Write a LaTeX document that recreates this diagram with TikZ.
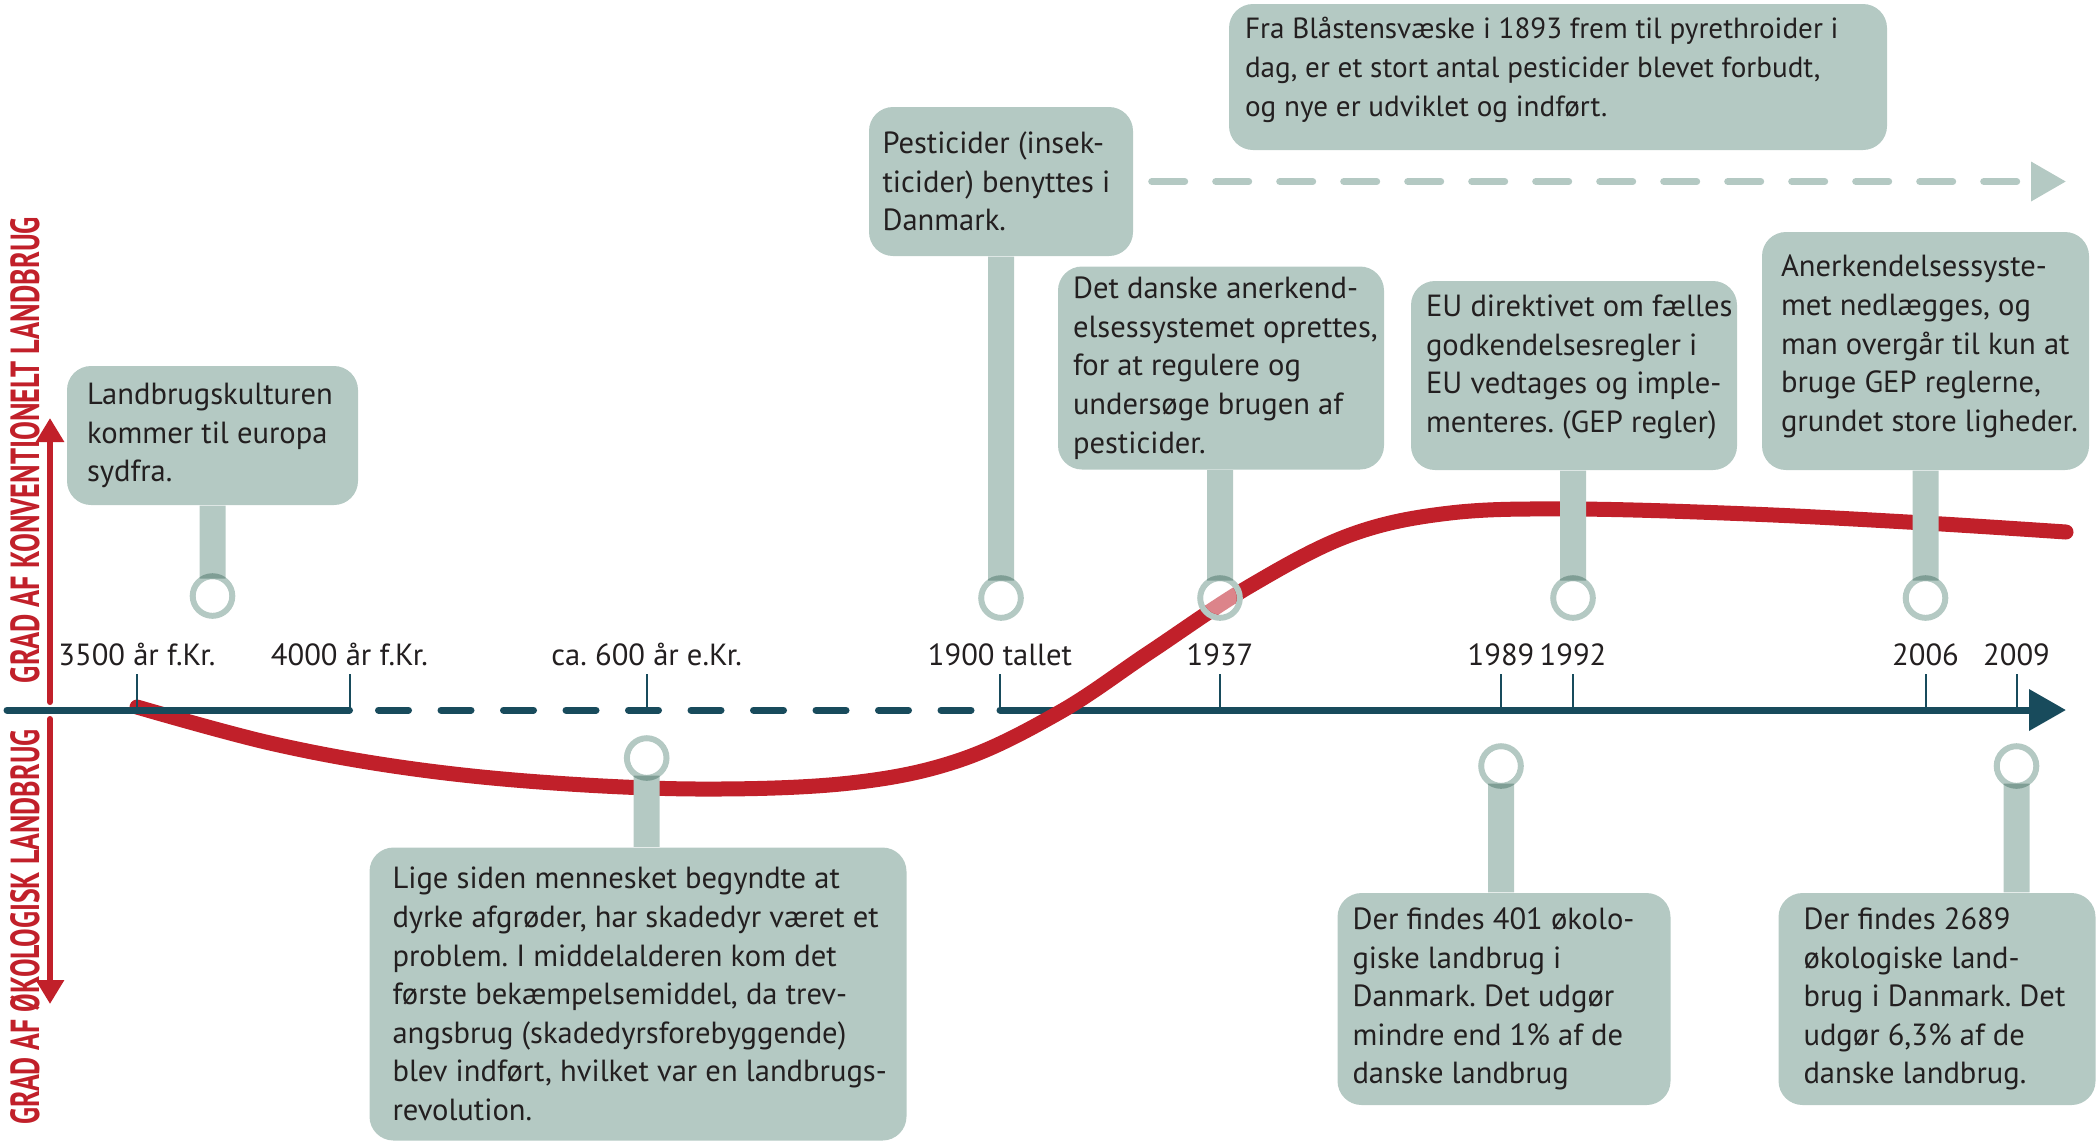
\documentclass[tikz,border=0pt]{standalone}
\usepackage{fontspec}
\setmainfont{PT Sans}
\usetikzlibrary{positioning,arrows.meta,calc}
\definecolor{boxgreen}{HTML}{B4C9C3}
\definecolor{axisblue}{HTML}{184B5C}
\definecolor{curvered}{HTML}{C1202A}
\definecolor{inktext}{HTML}{231F20}
\newcommand{\sidetext}[2]{\resizebox{#1}{2.9mm}{\bfseries #2}}
\frenchspacing

\begin{document}
\begin{tikzpicture}[x=0.1mm, y=-0.1mm,
		font=\fontsize{8.7}{11}\selectfont,
		box/.style={fill=boxgreen, rounded corners=2.4mm, inner sep=0pt},
		txt/.style={align=left, inner sep=0pt, text=inktext},
		lbl/.style={anchor=base, inner sep=0pt, text=inktext},
		side/.style={rotate=90, inner sep=0pt, text=curvered},
		pin/.style={circle, draw=boxgreen, line width=0.6mm, minimum size=3.96mm, inner sep=0pt},
		stem/.style={draw=boxgreen, line width=2.6mm, shorten <=1.75mm},
		tick/.style={draw=axisblue, line width=0.2mm},
		axis/.style={draw=axisblue, line width=0.7mm, line cap=round},
		axisdash/.style={axis, dash pattern=on 3mm off 3.25mm},
		scalearr/.style={draw=curvered, line width=0.6mm, line cap=round,
				-{Triangle[length=2.4mm, width=2.7mm]}},
		trend/.style={draw=curvered, line width=1.5mm, line cap=round},
		future/.style={draw=boxgreen, line width=0.7mm, line cap=round,
				dash pattern=on 3.3mm off 3.1mm, -{Triangle[length=3.5mm, width=3.8mm]}}
		]
	\useasboundingbox (0,0) rectangle (2100,1141);

	\coordinate (axisstart) at (7,710);
	\coordinate (y3500) at (137,710);
	\coordinate (y4000) at (349.5,710);
	\coordinate (dashstart) at (378.5,710);
	\coordinate (y600) at (646.7,710);
	\coordinate (dashend) at (971,710);
	\coordinate (y1900) at (1000,710);
	\coordinate (y1937) at (1220,710);
	\coordinate (y1989) at (1501,710);
	\coordinate (y1992) at (1573,710);
	\coordinate (y2006) at (1925.5,710);
	\coordinate (y2009) at (2016.5,710);
	\coordinate (axistip) at (2066,710);

	\node[box, minimum width=29.1mm, minimum height=13.9mm] (kultur) at (212.5,435.5) {};
	\node[txt, right=2mm of kultur.west] (kulturtxt)
	{Landbrugskulturen\\kommer til europa\\sydfra.};
	\node[box, minimum width=26.4mm, minimum height=14.9mm] (pest) at (1001,181.5) {};
	\node[txt, right=1.35mm of pest.west] (pesttxt)
	{Pesticider (insek-\\ticider) benyttes i\\Danmark.};
	\node[box, minimum width=65.8mm, minimum height=14.6mm] (blaa) at (1558,77) {};
	\node[txt, right=1.6mm of blaa.west, yshift=0.7mm, font=\fontsize{8.3}{11}\selectfont] (blaatxt)
	{Fra Blåstensvæske i 1893 frem til pyrethroider i\\
		dag, er et stort antal pesticider blevet forbudt,\\
		og nye er udviklet og indført.};
	\node[box, minimum width=32.6mm, minimum height=20.3mm] (anerk) at (1221,368) {};
	\node[txt, right=1.5mm of anerk.west] (anerktxt)
	{Det danske anerkend-\\elsessystemet oprettes,\\for at regulere og\\
		undersøge brugen af\\pesticider.};
	\node[box, minimum width=32.6mm, minimum height=18.9mm] (eu) at (1574,375.5) {};
	\node[txt, right=1.5mm of eu.west, yshift=0.85mm] (eutxt)
	{EU direktivet om fælles\\godkendelsesregler i\\EU vedtages og imple-\\
		menteres. (GEP regler)};
	\node[box, minimum width=32.7mm, minimum height=23.8mm] (gep) at (1925.5,351) {};
	\node[txt, right=1.9mm of gep.west, yshift=0.45mm] (geptxt)
	{Anerkendelsessyste-\\met nedlægges, og\\man overgår til kun at\\
		bruge GEP reglerne,\\grundet store ligheder.};
	\node[box, minimum width=53.7mm, minimum height=29.3mm] (lige) at (638,994) {};
	\node[txt, right=2.3mm of lige.west] (ligetxt)
	{Lige siden mennesket begyndte at\\dyrke afgrøder, har skadedyr været et\\
		problem. I middelalderen kom det\\første bekæmpelsemiddel, da trev-\\
		angsbrug (skadedyrsforebyggende)\\blev indført, hvilket var en landbrugs-\\
		revolution.};
	\node[box, minimum width=33.3mm, minimum height=21.2mm] (oko401) at (1504,999) {};
	\node[txt, right=1.5mm of oko401.west] (oko401txt)
	{Der findes 401 økolo-\\giske landbrug i\\Danmark. Det udgør\\
		mindre end 1\% af de\\danske landbrug};
	\node[box, minimum width=31.7mm, minimum height=21.2mm] (oko2689) at (1937,999) {};
	\node[txt, right=2.5mm of oko2689.west] (oko2689txt)
	{Der findes 2689\\økologiske land-\\brug i Danmark. Det\\
		udgør 6,3\% af de\\danske landbrug.};

	\coordinate (futuretip) at (2066,181.5);
	\draw[future, shorten <=1.8mm] (pest.east) -- (futuretip);

	\draw[axisdash] (dashstart) -- (dashend);
	\draw[axis, -{Triangle[length=3.7mm, width=4mm]}] (y1900) -- (axistip);
	\draw[trend] plot[smooth, tension=0.6] coordinates {(137,707) (270,743) (400,767)
			(540,782) (700,789) (850,783) (960,760) (1060,712) (1150,652) (1250,586)
			(1350,535) (1450,513) (1573,509) (1750,514) (1925,523) (2066,532)};
	\draw[axis] (axisstart) -- (y4000);
	\foreach \t in {y3500,y4000,y600,y1900,y1937,y1989,y1992,y2006,y2009}
	\draw[tick] (\t) -- ++(0,-36);

	\node[lbl] (l3500) at ($(y3500)+(0,-45)$) {3500 år f.Kr.};
	\node[lbl] (l4000) at ($(y4000)+(0,-45)$) {4000 år f.Kr.};
	\node[lbl] (l600) at ($(y600)+(0,-45)$) {ca. 600 år e.Kr.};
	\node[lbl] (l1900) at ($(y1900)+(0,-45)$) {1900 tallet};
	\node[lbl] (l1937) at ($(y1937)+(0,-45)$) {1937};
	\node[lbl] (l1989) at ($(y1989)+(0,-45)$) {1989};
	\node[lbl] (l1992) at ($(y1992)+(0,-45)$) {1992};
	\node[lbl] (l2006) at ($(y2006)+(0,-45)$) {2006};
	\node[lbl] (l2009) at ($(y2009)+(0,-45)$) {2009};

	\begin{scope}[blend group=multiply]
		\node[pin] (pinkultur) at (212.5,596) {};
		\node[pin] (pinpest) at (1001,598) {};
		\node[pin] (pin1937) at (1220,598) {};
		\node[pin] (pin1992) at (1573,598) {};
		\node[pin] (pin2006) at (1925.5,598) {};
		\node[pin] (pin600) at (646.7,758) {};
		\node[pin] (pin1989) at (1501,766) {};
		\node[pin] (pin2009) at (2016.5,766) {};
		\draw[stem] (pinkultur.center) -- (pinkultur |- kultur.south);
		\draw[stem] (pinpest.center) -- (pinpest |- pest.south);
		\draw[stem] (pin1937.center) -- (pin1937 |- anerk.south);
		\draw[stem] (pin1992.center) -- (pin1992 |- eu.south);
		\draw[stem] (pin2006.center) -- (pin2006 |- gep.south);
		\draw[stem] (pin600.center) -- (pin600 |- lige.north);
		\draw[stem] (pin1989.center) -- (pin1989 |- oko401.north);
		\draw[stem] (pin2009.center) -- (pin2009 |- oko2689.north);
	\end{scope}
	\foreach \p in {pinkultur,pinpest,pin1937,pin1992,pin2006,pin600,pin1989,pin2009}
	\fill[white, opacity=0.45] (\p) circle (1.65mm);

	\coordinate (scaleup) at (50,702);
	\coordinate (scaletop) at (50,418);
	\coordinate (scaledown) at (50,719);
	\coordinate (scalebottom) at (50,1004);
	\draw[scalearr] (scaleup) -- (scaletop);
	\draw[scalearr] (scaledown) -- (scalebottom);
	\node[side] (konv) at (25,450) {\sidetext{46.6mm}{GRAD AF KONVENTIONELT LANDBRUG}};
	\node[side] (oko) at (25,927) {\sidetext{39.5mm}{GRAD AF ØKOLOGISK LANDBRUG}};
\end{tikzpicture}
\end{document}
